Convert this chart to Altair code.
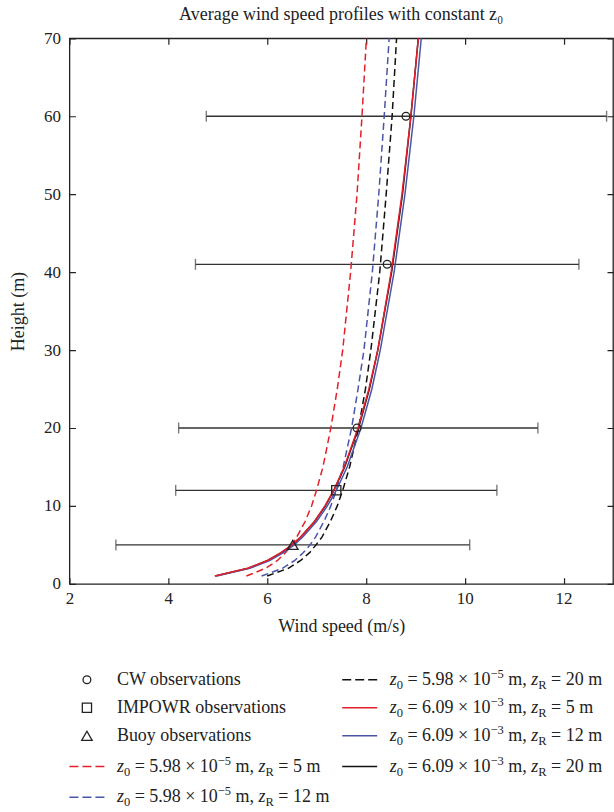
import altair as alt
import pandas as pd

# ---------------- data ----------------
heights = [1, 2, 3, 4, 5, 6, 8, 10, 12, 15, 20, 25, 30, 40, 50, 60, 70]
# z0 = 5.98e-5 m (dashed)
dash_zr5 = [5.58, 5.97, 6.21, 6.37, 6.50, 6.60, 6.77, 6.90, 7.00, 7.13, 7.29, 7.42, 7.53, 7.69, 7.82, 7.92, 8.01]
dash_zr12 = [5.89, 6.31, 6.56, 6.73, 6.87, 6.98, 7.15, 7.29, 7.40, 7.54, 7.71, 7.84, 7.96, 8.13, 8.26, 8.37, 8.47]
dash_zr20 = [6.00, 6.43, 6.68, 6.86, 6.99, 7.11, 7.28, 7.42, 7.53, 7.67, 7.85, 7.99, 8.10, 8.28, 8.41, 8.53, 8.62]
# z0 = 6.09e-3 m (solid)
solid_zr5 = [4.94, 5.61, 6.01, 6.28, 6.50, 6.68, 6.96, 7.17, 7.35, 7.56, 7.84, 8.06, 8.24, 8.51, 8.73, 8.91, 9.06]
solid_zr12 = [4.98, 5.65, 6.05, 6.33, 6.55, 6.72, 7.00, 7.22, 7.40, 7.62, 7.90, 8.12, 8.29, 8.57, 8.79, 8.97, 9.12]
solid_zr20 = [4.95, 5.62, 6.01, 6.29, 6.51, 6.68, 6.96, 7.18, 7.35, 7.57, 7.85, 8.07, 8.24, 8.52, 8.74, 8.91, 9.06]

obs_source = ["CW", "CW", "CW", "IMPOWR", "Buoy"]
obs_height = [60, 41, 20, 12, 5]
obs_speed = [8.81, 8.43, 7.82, 7.40, 6.52]
obs_low = [4.77, 4.55, 4.21, 4.15, 2.94]
obs_high = [12.87, 12.31, 11.48, 10.65, 10.10]

obs_kinds = ["CW", "IMPOWR", "Buoy"]
obs_labels = ["CW observations", "IMPOWR observations", "Buoy observations"]

series_keys = ["d5", "d12", "d20", "s5", "s12", "s20"]
series_z0 = ["5.98", "5.98", "5.98", "6.09", "6.09", "6.09"]
series_exp = ["\u22125", "\u22125", "\u22125", "\u22123", "\u22123", "\u22123"]
series_zr = ["5", "12", "20", "5", "12", "20"]
series_values = [dash_zr5, dash_zr12, dash_zr20, solid_zr5, solid_zr12, solid_zr20]

x_ticks = [2, 4, 6, 8, 10, 12]
y_ticks = [0, 10, 20, 30, 40, 50, 60, 70]

# ---------------- styles ----------------
FONT = "Liberation Serif"
INK = "#222222"
RED = "#e3202a"
BLUE = "#4b55a8"
BLACK = "#111111"
series_color = {"d5": RED, "d12": BLUE, "d20": BLACK, "s5": RED, "s12": BLUE, "s20": BLACK}
series_dashed = {"d5": True, "d12": True, "d20": True, "s5": False, "s12": False, "s20": False}

W, H = 544, 546

# ---------------- tables ----------------
line_rows = []
for k, vals in zip(series_keys, series_values):
    for h, v in zip(heights, vals):
        line_rows.append({"key": k, "h": h, "speed": v})
line_df = pd.DataFrame(line_rows)

obs_df = pd.DataFrame({"src": obs_source, "h": obs_height, "speed": obs_speed,
                       "low": obs_low, "high": obs_high})

x_axis = alt.Axis(values=x_ticks, title="Wind speed (m/s)", grid=True,
                  gridDash=[6, H - 12, 6, 3000], gridColor=INK, gridWidth=1.2,
                  ticks=False, domain=False, labelFlush=False,
                  labelFont=FONT, labelFontSize=17, labelColor=INK, labelPadding=7,
                  titleFont=FONT, titleFontSize=18, titleFontWeight="normal",
                  titleColor=INK, titlePadding=11)
y_axis = alt.Axis(values=y_ticks, title="Height (m)", grid=True,
                  gridDash=[6, W - 12, 6, 3000], gridColor=INK, gridWidth=1.2,
                  ticks=False, domain=False, labelFlush=False,
                  labelFont=FONT, labelFontSize=17, labelColor=INK, labelPadding=9,
                  titleFont=FONT, titleFontSize=18, titleFontWeight="normal",
                  titleColor=INK, titlePadding=16)

x_scale = alt.Scale(domain=[2, 13], nice=False, zero=False)
y_scale = alt.Scale(domain=[0, 70], nice=False, zero=False)


def xe(field):
    return alt.X(f"{field}:Q", scale=x_scale, axis=x_axis)


ye = alt.Y("h:Q", scale=y_scale, axis=y_axis)

shape_enc = alt.Shape("src:N", scale=alt.Scale(domain=obs_kinds, range=["circle", "square", "triangle-up"]), legend=None)
size_enc = alt.Size("src:O", scale=alt.Scale(domain=obs_kinds, range=[60, 110, 100]), legend=None)

bars = alt.Chart(obs_df).mark_rule(color="#333333", strokeWidth=1.3).encode(
    x=xe("low"), x2="high:Q", y=ye)
caps_lo = alt.Chart(obs_df).mark_tick(orient="vertical", size=11, thickness=1.4, color="#444444").encode(
    x=xe("low"), y=ye)
caps_hi = alt.Chart(obs_df).mark_tick(orient="vertical", size=11, thickness=1.4, color="#444444").encode(
    x=xe("high"), y=ye)

draw_order = ["d5", "d12", "d20", "s20", "s12", "s5"]
line_layers = []
for k in draw_order:
    kw = dict(color=series_color[k], strokeWidth=1.5)
    if series_dashed[k]:
        kw["strokeDash"] = [7, 4]
    line_layers.append(
        alt.Chart(line_df).transform_filter(alt.datum.key == k).mark_line(**kw).encode(
            x=xe("speed"), y=ye, order="h:Q"))

markers = alt.Chart(obs_df).mark_point(filled=False, color=INK, strokeWidth=1.3, opacity=1).encode(
    x=xe("speed"), y=ye, shape=shape_enc, size=size_enc)

main = alt.layer(bars, caps_lo, caps_hi, *line_layers, markers).properties(
    width=W, height=H,
    title=alt.TitleParams(text="Average wind speed profiles with constant z\u2080", anchor="middle",
                          frame="group", font=FONT, fontSize=18, fontWeight="normal",
                          color=INK, offset=5))

# ---------------- legend ----------------
leg_order_col = [0, 0, 0, 0, 0, 1, 1, 1, 1]
leg_order_row = [0, 1, 2, 3.1, 4.2, 0, 1, 2, 3.1]
leg_order_key = ["CW", "IMPOWR", "Buoy", "d5", "d12", "d20", "s5", "s12", "s20"]

leg_rows = []
for c, r, k in zip(leg_order_col, leg_order_row, leg_order_key):
    row = {"col": c, "row": r, "key": k}
    if k in obs_kinds:
        row.update(kind="obs", src=k, label=obs_labels[obs_kinds.index(k)])
    else:
        i = series_keys.index(k)
        row.update(kind="line", src="", label="",
                   p_eq=f"= {series_z0[i]} \u00d7 10", p_exp=series_exp[i], p_zr=f"= {series_zr[i]} m")
    leg_rows.append(row)
leg_df = pd.DataFrame(leg_rows)

LH = 154
lx = alt.X("col:Q", scale=alt.Scale(domain=[0, 1], range=[17.5, 290.5], nice=False, zero=False), axis=None)
ly = alt.Y("row:Q", scale=alt.Scale(domain=[-0.93, 4.57], reverse=True, nice=False, zero=False), axis=None)

FS, SFS = 18, 12.5
DX0 = 30
em = {"z": 0.389, "sp": 0.25, "eq": 4.618, "exp": 1.064, "m": 1.028, "R": 0.667, "0": 0.5}
x_z1 = DX0
x_sub0 = x_z1 + em["z"] * FS
x_eq = x_sub0 + em["0"] * SFS + em["sp"] * FS
x_exp = x_eq + em["eq"] * FS
x_m = x_exp + em["exp"] * SFS + em["sp"] * FS
x_z2 = x_m + em["m"] * FS + em["sp"] * FS
x_R = x_z2 + em["z"] * FS
x_eq2 = x_R + em["R"] * SFS + em["sp"] * FS

base_leg = alt.Chart(leg_df)
obs_sym = base_leg.transform_filter(alt.datum.kind == "obs").mark_point(
    filled=False, color=INK, strokeWidth=1.3, opacity=1).encode(x=lx, y=ly, shape=shape_enc, size=size_enc)
obs_txt = base_leg.transform_filter(alt.datum.kind == "obs").mark_text(
    align="left", baseline="middle", dx=DX0, font=FONT, fontSize=FS, color=INK).encode(x=lx, y=ly, text="label:N")

sym_layers = []
for k in series_keys:
    kw = dict(shape="stroke", size=1225, color=series_color[k], strokeWidth=1.5, opacity=1, filled=False)
    if series_dashed[k]:
        kw["strokeDash"] = [9, 4]
    sym_layers.append(base_leg.transform_filter(alt.datum.key == k).mark_point(**kw).encode(x=lx, y=ly))

lines_base = base_leg.transform_filter(alt.datum.kind == "line")
txt_kw = dict(align="left", baseline="middle", font=FONT, color=INK)
t_z1 = lines_base.mark_text(text="z", fontStyle="italic", fontSize=FS, dx=x_z1, **txt_kw).encode(x=lx, y=ly)
t_0 = lines_base.mark_text(text="0", fontSize=SFS, dx=x_sub0, dy=5, **txt_kw).encode(x=lx, y=ly)
t_eq = lines_base.mark_text(fontSize=FS, dx=x_eq, **txt_kw).encode(x=lx, y=ly, text="p_eq:N")
t_exp = lines_base.mark_text(fontSize=SFS, dx=x_exp, dy=-6, **txt_kw).encode(x=lx, y=ly, text="p_exp:N")
t_m = lines_base.mark_text(text="m,", fontSize=FS, dx=x_m, **txt_kw).encode(x=lx, y=ly)
t_z2 = lines_base.mark_text(text="z", fontStyle="italic", fontSize=FS, dx=x_z2, **txt_kw).encode(x=lx, y=ly)
t_R = lines_base.mark_text(text="R", fontSize=SFS, dx=x_R, dy=5, **txt_kw).encode(x=lx, y=ly)
t_zr = lines_base.mark_text(fontSize=FS, dx=x_eq2, **txt_kw).encode(x=lx, y=ly, text="p_zr:N")

legend = alt.layer(obs_sym, obs_txt, *sym_layers, t_z1, t_0, t_eq, t_exp, t_m, t_z2, t_R, t_zr).properties(
    width=W, height=LH, view=alt.ViewBackground(stroke="transparent"))

chart = alt.vconcat(main, legend, spacing=70, bounds="flush").resolve_scale(
    x="independent", y="independent", shape="shared", size="shared").properties(
    padding={"left": 8.5, "top": 5, "right": 0, "bottom": 0}).configure(font=FONT).configure_view(
    stroke=INK, strokeWidth=1.3)

chart.save("out.html", embed_options={"renderer": "svg", "actions": False})
